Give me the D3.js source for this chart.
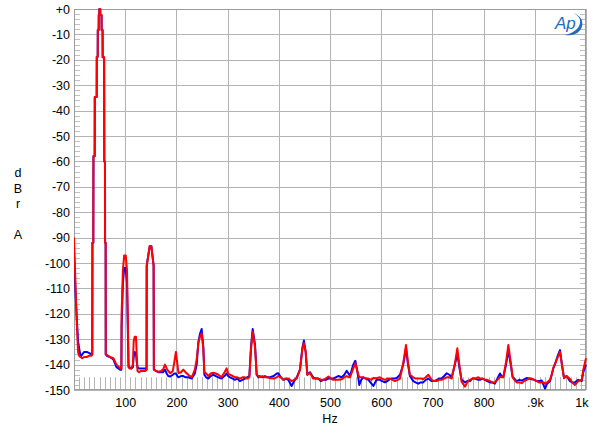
<!DOCTYPE html>
<html><head><meta charset="utf-8">
<script src="https://cdn.jsdelivr.net/npm/d3@7/dist/d3.min.js"></script>
<style>
html,body{margin:0;padding:0;background:#fff;}
svg{display:block;font-family:"Liberation Sans",Arial,sans-serif;}
</style></head>
<body>
<svg id="chart" width="600" height="433"></svg>
<script>
// ---- data (Hz, dBr A) ----
const freqs = [0,3,5.5,8,10,13,16,20,25,30,34,35.7,36,37.7,38,40.4,40.6,44.3,44.5,46.3,46.5,48.2,48.4,49.4,49.6,51.2,51.4,53.8,54,55.8,56,58.8,59,59.2,60.5,60.7,61.8,62,
64,70,77,83,90,92.5,93,95.5,98,101,103.5,105,106.5,108,112,115,116.5,118.5,121,122.5,124,127,131,135,139,141.7,142,148,151,155.5,156,
160,165,170,174,177.7,181,184,188,193,196,199,202,204,209,213.5,218,223,230,236,239.6,243,246,249.3,252.6,254.6,258,262.4,267,272,277,282,288,294,298,301,304.7,310,314.5,319,324,329,334,338,342.5,345.7,349,353.5,356.8,360,363,368,373,378,383,390,396,399,404,409,414,418.5,425,430,435,441.4,446,449,452.5,455.7,461,467,472,477,482,487,492,497,502,506,511,516,523,528,532.6,536,539,545.5,549.4,553.3,557.2,561,565,570,575,581,584.6,591,597.6,602,607.4,612,617,622,627,632,636.7,643,648.4,651.7,656,662.7,667,672.5,677,682,687,692,698.6,703,708.4,713,718,723,728,733,737.7,744,748.7,752.6,757,763.7,768,773.4,778,783,789.6,793,798,802.7,807,812.5,817,822,827,832,835,838.5,843.8,848.3,853,856.8,860,864.6,870,874.4,879,884,889,894,899,903.7,908,913.5,917,920,924,929.7,933,936,940,944,949.2,953,957,962,968.8,973,978.5,985,991.6,994.7,1000];

const redDb = [-90,-109,-124,-135,-136.5,-137,-137.5,-137,-137,-136.5,-136.5,-136,-92,-92,-58,-58,-34.6,-34.6,-18.8,-18.8,-8.3,-8.3,-2.4,-2.4,0,0,-2.4,-2.4,-8.3,-8.3,-19,-19,-34.6,-60,-60,-92,-92,-136,
-136.2,-137,-137.5,-140,-141.5,-141.5,-120,-103,-97,-97,-103,-120,-140,-141.5,-141.5,-140,-131,-129,-129,-136,-142.5,-143,-142.5,-142.5,-142.5,-142,-101,-93.3,-93.3,-101,-142,
-142.5,-142.8,-142.5,-142,-140,-141.5,-142.5,-143.4,-142.5,-139,-135,-140,-143.3,-143,-142,-143,-144,-145,-142,-138,-131.5,-129,-127.7,-134,-142.8,-143.5,-144.5,-143.5,-143.2,-143.5,-144,-145,-143,-141.5,-143.5,-144,-144.5,-145,-145,-145.5,-145,-145,-145.5,-145,-134,-127,-133,-144,-144.5,-145,-144.5,-145,-145,-145.4,-145.5,-145,-144.5,-145,-146,-145.5,-145.5,-146.5,-146,-145.5,-142,-134,-131.6,-135,-144,-143.3,-145.5,-145.5,-145.5,-146,-146,-145.5,-144.7,-145.5,-146,-146,-146,-145.8,-145,-144.5,-145,-145,-141.5,-139.5,-142.5,-145,-145,-145,-145.5,-145.5,-146,-145.3,-145.4,-145,-145.5,-146,-145.5,-145.5,-146,-146.5,-146,-145.5,-139.5,-132.3,-138,-144,-145,-145.5,-145.5,-145.5,-145.7,-145,-144,-146,-146.5,-146.5,-146,-146,-145.5,-145,-145,-145.5,-139.5,-133.6,-140,-146.7,-148.7,-147,-146,-145.5,-145.5,-145,-145.5,-145.5,-146,-146,-146.5,-147,-147,-146,-144.8,-145,-145,-139,-132.3,-139,-145,-146,-147,-147,-147.3,-146.5,-146,-145.5,-145.5,-146,-146.5,-147,-147,-147,-147.5,-147,-146,-144,-141.5,-139.5,-137.5,-135,-140,-145.4,-144.5,-145.7,-147,-148,-146.5,-146,-142,-137.5];

const blueDb = [-96,-112,-122,-131,-133.5,-137,-136,-135,-135,-135.5,-136,-136,-92,-92,-58,-58,-34.6,-34.6,-18.8,-18.8,-8.3,-8.3,-2.4,-2.4,0,0,-2.4,-2.4,-8.3,-8.3,-19,-19,-34.6,-60,-60,-92,-92,-136,
-136.5,-137,-138,-141,-142,-142,-125,-108,-102,-102,-108,-125,-141,-141,-141.5,-141,-137,-135,-135.5,-139,-141,-141.5,-141.5,-141.5,-141.5,-142,-101,-93.3,-93.3,-101,-142,
-142.5,-143,-143,-143,-142,-143.5,-144.5,-144.7,-144,-143.5,-143.5,-144.5,-145,-144.5,-144.5,-145,-145,-145.5,-143.5,-140,-131,-128,-126,-133,-144,-145,-145.5,-144.5,-144,-144.5,-145,-145.5,-144.5,-143.5,-144.5,-145,-145.5,-146,-145.5,-146.5,-146,-145.5,-145,-144.5,-133,-126,-132,-144,-145,-144.5,-145,-144.5,-145,-145,-144.5,-143.5,-143.4,-145,-146,-145.5,-146,-148.4,-146.5,-145,-142,-133.5,-130.5,-135,-144,-143,-145,-145.5,-145.5,-146.5,-146,-146,-145.5,-145.5,-145.5,-145,-144.5,-145,-144,-142.4,-143.5,-144.5,-140,-138.5,-142.5,-148,-146,-145,-145.5,-146,-147.5,-148.4,-146,-146,-146.5,-147,-146.5,-145.7,-145.5,-145.5,-145,-144,-140,-133.6,-139,-144.5,-146.5,-147,-147.5,-147,-147,-146,-145.5,-146.5,-146.5,-146,-145.5,-145.5,-144.5,-143.4,-144,-145,-140,-135.6,-141,-146,-147,-146.5,-146.5,-145.5,-145.5,-146,-146,-145.5,-146,-146.5,-147,-147,-147.5,-145.5,-143.5,-144.5,-145,-140,-134.3,-140,-145,-145.5,-146.5,-146,-146.3,-145.8,-145.3,-145.5,-145.8,-146,-146.5,-146.5,-146.3,-148,-149.5,-147.5,-146.5,-144,-141.5,-139.5,-137,-134.3,-140,-145,-144.5,-146.5,-147,-147,-146,-146.5,-143,-140];

const yTicks = [0,-10,-20,-30,-40,-50,-60,-70,-80,-90,-100,-110,-120,-130,-140,-150];
const yTickLabels = ["+0","-10","-20","-30","-40","-50","-60","-70","-80","-90","-100","-110","-120","-130","-140","-150"];
const xTicks = [100,200,300,400,500,600,700,800,900,1000];
const xTickLabels = ["100","200","300","400","500","600","700","800",".9k","1k"];
const yTitle = ["d","B","r","","A"];
const xTitle = "Hz";

// ---- layout ----
const L = 74, R = 586, T = 9, B = 390;
const svg = d3.select("#chart");
const x = d3.scaleLinear().domain([0,1000]).range([L,R]);
const y = d3.scaleLinear().domain([-150,0]).range([B,T]);

// grid
const g = svg.append("g");
g.selectAll(".hg").data(yTicks).join("line")
  .attr("x1",L).attr("x2",R).attr("y1",d=>Math.round(y(d))+0.5).attr("y2",d=>Math.round(y(d))+0.5)
  .attr("stroke","#b4b4b4").attr("stroke-width",1);
g.selectAll(".vg").data(xTicks).join("line")
  .attr("y1",T).attr("y2",B).attr("x1",d=>Math.round(x(d))+0.5).attr("x2",d=>Math.round(x(d))+0.5)
  .attr("stroke","#b4b4b4").attr("stroke-width",1);

// minor ticks left/right (every 2 dB)
const yMinor = d3.range(-148,0,2).filter(v=>v%10!==0);
g.selectAll(".ml").data(yMinor).join("line")
  .attr("x1",L).attr("x2",L+6).attr("y1",d=>Math.round(y(d))+0.5).attr("y2",d=>Math.round(y(d))+0.5)
  .attr("stroke","#c0c0c0");
g.selectAll(".mr").data(yMinor).join("line")
  .attr("x1",R-6).attr("x2",R).attr("y1",d=>Math.round(y(d))+0.5).attr("y2",d=>Math.round(y(d))+0.5)
  .attr("stroke","#c0c0c0");
// minor ticks bottom (every 10 Hz)
const xMinor = d3.range(10,1000,10).filter(v=>v%100!==0);
g.selectAll(".mb").data(xMinor).join("line")
  .attr("y1",B).attr("y2",y(-145)).attr("x1",d=>Math.round(x(d))+0.5).attr("x2",d=>Math.round(x(d))+0.5)
  .attr("stroke","#b4b4b4");

// frame
svg.append("rect").attr("x",L+0.5).attr("y",T+0.5).attr("width",R-L-1).attr("height",B-T-1)
  .attr("fill","none").attr("stroke","#9c9c9c");

// axes labels via d3 axes
const yAxis = d3.axisLeft(y).tickValues(yTicks).tickFormat((d,i)=>yTickLabels[i]).tickSize(0).tickPadding(4);
const ya = svg.append("g").attr("transform",`translate(${L},0)`).call(yAxis);
ya.select(".domain").remove();
ya.selectAll("text").attr("font-size","12.5px").attr("fill","#000").attr("font-family","'Liberation Sans',Arial,sans-serif");

const xAxis = d3.axisBottom(x).tickValues(xTicks).tickFormat((d,i)=>xTickLabels[i]).tickSize(0).tickPadding(8);
const xa = svg.append("g").attr("transform",`translate(0,${B})`).call(xAxis);
xa.select(".domain").remove();
xa.selectAll("text").attr("font-size","12.5px").attr("fill","#000").attr("font-family","'Liberation Sans',Arial,sans-serif")
  .attr("text-anchor",d=>d===1000?"end":"middle").attr("dx",d=>d===1000?"2":"0");

// titles
svg.append("text").attr("x",330).attr("y",423).attr("text-anchor","middle").attr("font-size","12.5px").text(xTitle);
svg.selectAll(".yt").data(yTitle).join("text").attr("x",18).attr("y",(d,i)=>177+i*15.6)
  .attr("text-anchor","middle").attr("font-size","12.5px").text(d=>d);

// traces
const pts = (arr)=>freqs.map((f,i)=>[f,arr[i]]);
const line = d3.line().x(d=>x(d[0])).y(d=>y(Math.max(-150,d[1])));
svg.append("clipPath").attr("id","pc").append("rect").attr("x",L).attr("y",T-2).attr("width",R-L+1).attr("height",B-T+2);
svg.append("path").attr("d",line(pts(blueDb))).attr("fill","none").attr("stroke","#0000ff").attr("stroke-width",2).attr("stroke-linejoin","round").attr("clip-path","url(#pc)");
svg.append("path").attr("d",line(pts(redDb))).attr("fill","none").attr("stroke","#ff0000").attr("stroke-width",2).attr("stroke-linejoin","round").attr("clip-path","url(#pc)");

// Ap logo
const logo = svg.append("g").attr("transform","translate(553,12)");
logo.append("text").attr("x",2).attr("y",17).attr("font-size","17px").attr("font-style","italic")
  .attr("fill","#1c6cc4").attr("font-family","'Liberation Sans',Arial,sans-serif").text("Ap");
logo.append("path").attr("d","M12,23 C24,25 31,17 29,9 C28,5 24,2 20,1 C25,3 28,7 27,11 C26,17 20,21 12,23 Z").attr("fill","#1c6cc4");
</script>
</body></html>
